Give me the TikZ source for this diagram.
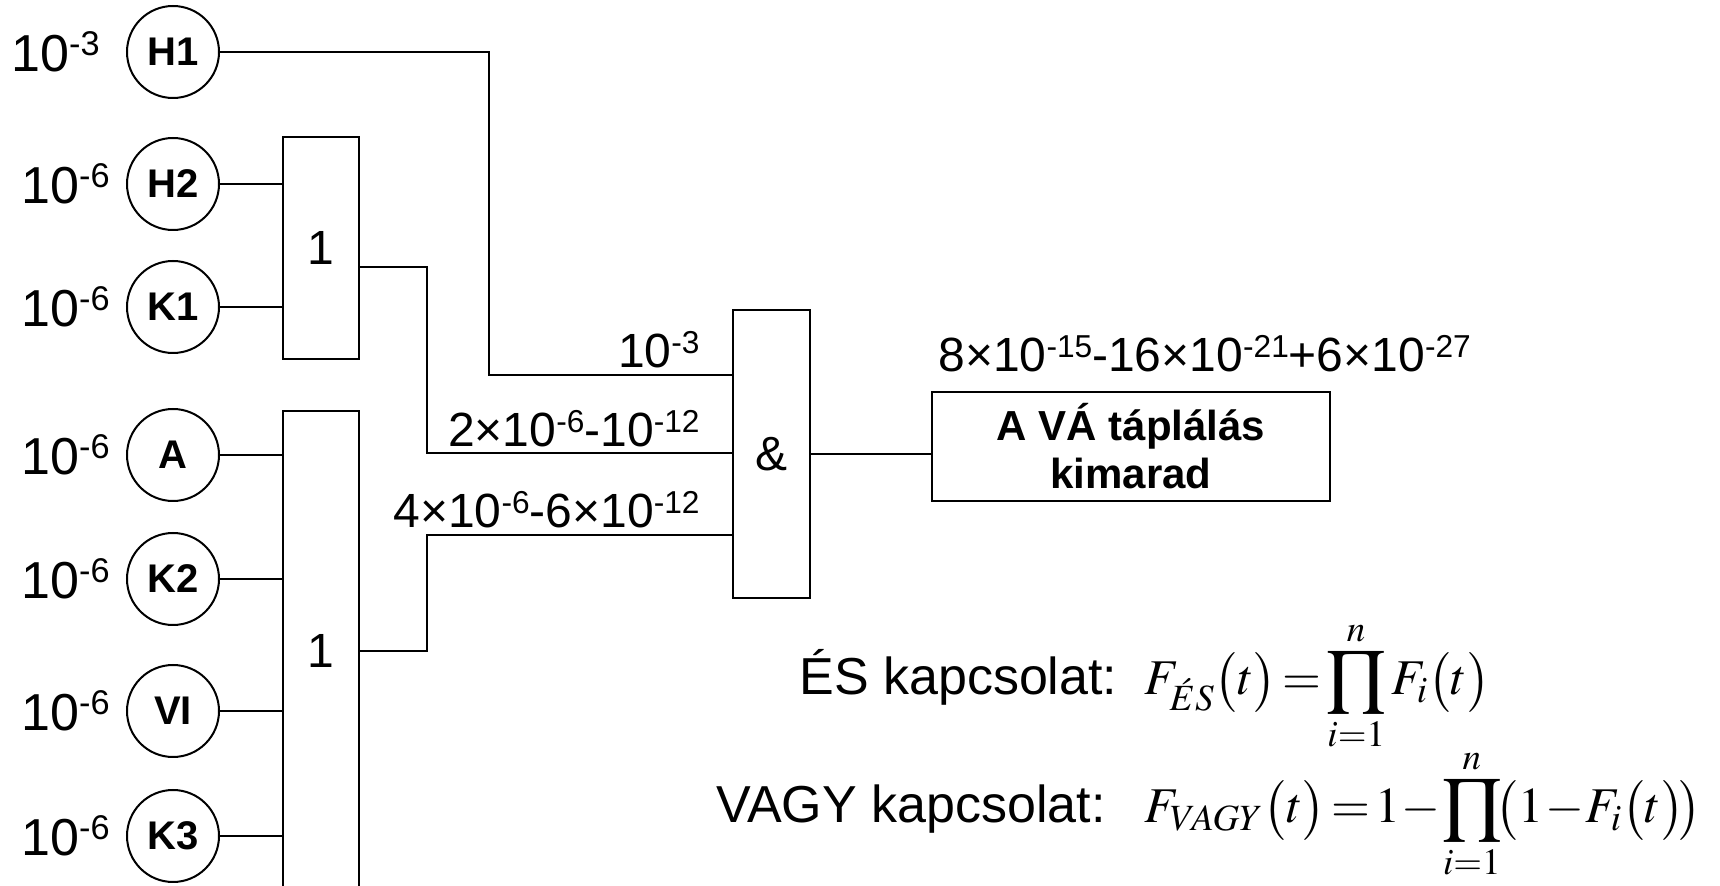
\documentclass[tikz,border=0pt]{standalone}
\usepackage{mathptmx}
\usepackage{mathtools}
\usepackage[no-math]{fontspec}
\setmainfont{Liberation Sans}
\usetikzlibrary{positioning}
\newcommand{\pw}[1]{\raisebox{0.3em}{\scalebox{0.66}{#1}}}

\begin{document}
\begin{tikzpicture}[x=0.5pt,y=-0.5pt,
  event/.style={circle,draw,line width=1pt,minimum size=46pt,inner sep=0pt,font=\fontsize{20pt}{22pt}\selectfont\bfseries},
  gate/.style={draw,line width=1pt,inner sep=0pt,font=\fontsize{24pt}{26pt}\selectfont},
  val/.style={font=\fontsize{24pt}{26pt}\selectfont,inner sep=2pt},
  big/.style={font=\fontsize{26pt}{28pt}\selectfont,inner sep=2pt},
  formula/.style={font=\fontsize{25pt}{28pt}\selectfont,inner sep=2pt},
  wire/.style={line width=1pt}]
  \useasboundingbox (0,0) rectangle (1720,886);

  % Basic events
  \node[event] (H1) at (173,52) {H1};
  \node[event] (H2) at (173,184) {H2};
  \node[event] (K1) at (173,307) {K1};
  \node[event] (A) at (173,455) {A};
  \node[event] (K2) at (173,579) {K2};
  \node[event] (VI) at (173,711) {VI};
  \node[event] (K3) at (173,836) {K3};

  % Probabilities of the basic events
  \node[big,left=11pt of H1] (pH1) {10\pw{-3}};
  \node[big,left=6pt of H2] (pH2) {10\pw{-6}};
  \node[big,left=6pt of K1] (pK1) {10\pw{-6}};
  \node[big,left=6pt of A] (pA) {10\pw{-6}};
  \node[big,left=6pt of K2] (pK2) {10\pw{-6}};
  \node[big,left=6pt of VI] (pVI) {10\pw{-6}};
  \node[big,left=6pt of K3] (pK3) {10\pw{-6}};

  % Gates
  \node[gate,minimum width=38pt,minimum height=111pt] (OR1) at (321,248) {1};
  \node[gate,minimum width=38pt,minimum height=240pt] (OR2) at (321,651) {1};
  \node[gate,minimum width=38.5pt,minimum height=144pt] (AND) at (771.5,454) {\&};
  \node[gate,minimum width=199pt,minimum height=54.5pt,align=center,
    font=\fontsize{21pt}{24pt}\selectfont\bfseries] (RES) at (1131,446.5) {A VÁ táplálás\\kimarad};

  % Bends of the wires
  \coordinate (j1) at (489,375);
  \coordinate (o1) at (359,267);
  \coordinate (j2) at (427,453);
  \coordinate (j3) at (427,535);

  % Wires
  \draw[wire] (H2) -- (H2 -| OR1.west);
  \draw[wire] (K1) -- (K1 -| OR1.west);
  \draw[wire] (A) -- (A -| OR2.west);
  \draw[wire] (K2) -- (K2 -| OR2.west);
  \draw[wire] (VI) -- (VI -| OR2.west);
  \draw[wire] (K3) -- (K3 -| OR2.west);
  \draw[wire] (H1) -| (j1) -- (j1 -| AND.west);
  \draw[wire] (o1) -| (j2) -- (j2 -| AND.west);
  \draw[wire] (OR2.east) -| (j3) -- (j3 -| AND.west);
  \draw[wire] (AND.east) -- (AND.east -| RES.west);

  % Probabilities on the wires
  \node[val,anchor=base east] (q1) at (704,368) {10\pw{-3}};
  \node[val,anchor=base east] (q2) at (704,447) {2×10\pw{-6}-10\pw{-12}};
  \node[val,anchor=base east] (q3) at (704,528) {4×10\pw{-6}-6×10\pw{-12}};
  \node[val,anchor=base west] (qtop) at (934,372) {8×10\pw{-15}-16×10\pw{-21}+6×10\pw{-27}};

  % Formulas
  \node[big,anchor=base west] (es) at (795,695) {ÉS kapcsolat:};
  \node[formula,anchor=base west] (esf) at ([xshift=9pt]es.base east)
    {$F_{\acute{E}S}\big(t\big)\!=\!\displaystyle\prod_{\mathclap{i{=}1}}^{n}F_i\big(t\big)$};
  \node[big,anchor=base west] (vagy) at (712,823) {VAGY kapcsolat:};
  \node[formula,anchor=base west] (vagyf) at ([xshift=15pt]vagy.base east)
    {$F_{V\!AGY}\big(t\big)\!=\!1\!-\!\displaystyle\prod_{\mathclap{i{=}1}}^{n}\!\!\big(1\!-\!F_i\big(t\big)\!\big)$};
\end{tikzpicture}
\end{document}
